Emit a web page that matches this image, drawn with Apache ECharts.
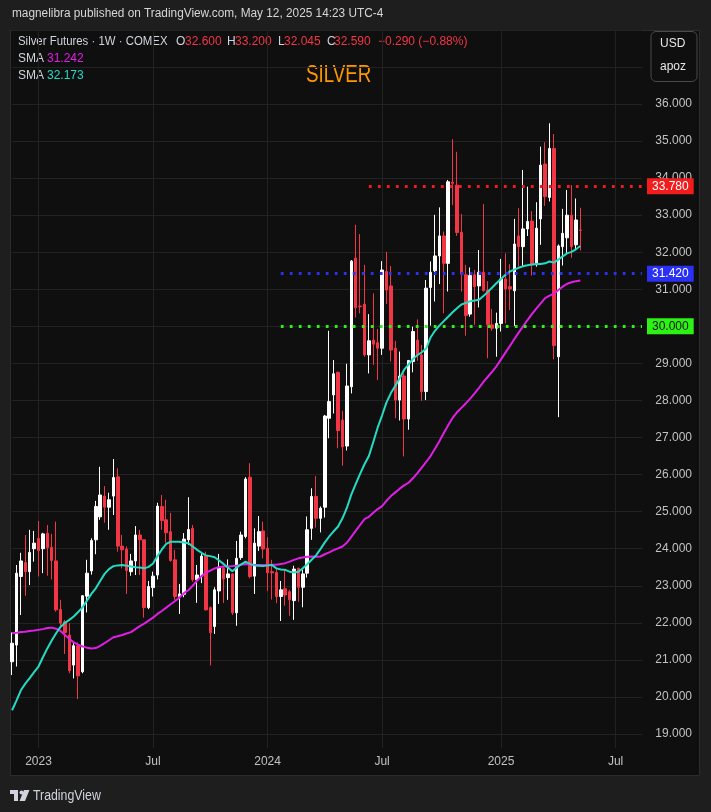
<!DOCTYPE html>
<html><head><meta charset="utf-8">
<script src="https://cdn.jsdelivr.net/npm/echarts@6/dist/echarts.min.js"></script>
<style>html,body{margin:0;padding:0;background:#1e1e1e;}#c{width:711px;height:812px;}</style>
</head><body><div id="c"></div>
<script>
// ---- data ----
const startWeek = '2022-11-21';
const weekCount = 144;
const opens = [
20.95,21.40,23.25,23.63,23.38,24.00,24.28,24.00,24.42,24.04,
23.67,22.36,22.03,21.67,20.86,21.38,20.68,22.72,23.40,24.24,
24.86,25.42,25.12,25.42,25.94,24.07,23.99,23.38,23.67,24.37,
24.24,22.41,22.95,23.29,25.14,24.78,24.46,23.70,22.71,22.77,
24.24,24.55,23.16,23.26,23.80,22.41,21.90,22.86,23.47,23.22,
23.32,22.27,23.76,24.33,25.93,23.26,24.07,24.48,24.01,23.38,
23.36,22.71,22.92,22.84,22.60,23.47,22.96,23.34,24.55,25.41,
24.82,25.12,27.52,28.15,28.76,27.47,26.77,28.37,31.84,30.55,
30.60,29.23,29.63,29.56,29.41,31.48,31.09,29.41,28.01,28.66,
27.50,29.05,29.63,29.23,28.24,31.05,31.50,31.90,32.44,31.70,
33.89,33.81,32.54,31.39,30.33,31.39,31.09,31.46,30.98,30.04,
29.95,30.08,31.28,31.07,30.96,32.44,32.15,32.63,32.84,31.66,
32.90,34.38,33.48,34.80,29.18,32.15,32.39,33.00,32.20,32.60];
const highs = [
21.74,23.56,23.89,24.37,24.51,24.48,24.75,24.43,24.64,24.40,
24.73,22.62,22.08,21.99,21.45,21.47,22.75,23.70,24.28,25.29,
26.21,25.69,25.51,26.42,26.17,24.37,24.06,23.86,24.61,24.51,
24.25,23.13,23.38,25.24,25.45,25.32,24.97,23.97,23.05,24.42,
25.39,24.64,23.56,23.86,23.92,22.44,22.96,23.86,23.50,23.71,
23.34,24.21,24.46,25.93,26.31,24.55,24.88,24.73,24.31,23.70,
23.47,23.13,23.43,22.89,23.54,23.49,23.43,24.87,25.63,25.96,
25.14,27.61,29.88,29.09,28.78,27.72,28.99,31.79,32.74,32.49,
31.66,30.33,30.89,29.93,31.76,32.01,31.63,29.61,29.32,28.73,
29.09,29.99,30.19,29.50,31.25,31.75,33.01,33.21,32.56,33.95,
35.05,34.71,33.03,31.66,31.59,31.52,32.06,33.30,31.22,30.47,
30.37,31.82,31.97,31.68,32.90,33.19,34.22,33.77,33.11,33.35,
34.85,34.97,35.48,35.19,32.21,33.17,33.68,33.81,33.45,33.20];
const lows = [
20.59,20.82,22.21,22.73,23.02,23.65,23.25,23.34,23.27,23.17,
22.30,21.90,21.16,20.64,20.50,19.94,20.64,22.28,23.30,23.85,
24.78,24.70,24.51,24.91,23.92,23.47,22.78,23.27,23.29,23.29,
22.14,22.37,22.71,23.17,24.51,24.16,23.65,22.62,22.24,22.69,
24.10,23.11,22.54,23.07,22.33,20.85,21.70,22.51,22.54,22.62,
22.21,21.92,23.70,24.28,23.20,22.78,23.94,23.74,22.86,22.63,
22.53,22.05,22.46,22.19,22.08,22.57,22.42,23.22,24.24,24.57,
24.44,24.84,26.98,27.65,26.71,26.24,26.65,28.19,30.24,30.35,
29.18,28.73,28.96,28.55,29.23,30.60,29.05,27.52,27.46,26.49,
27.21,28.76,29.07,27.99,28.01,30.02,30.67,31.14,30.35,30.94,
33.27,32.44,30.94,29.75,30.26,30.04,30.51,30.94,29.14,29.88,
29.18,29.86,30.08,30.44,30.01,31.61,31.63,32.44,31.37,31.61,
32.20,33.25,33.37,29.11,27.55,31.64,31.97,31.85,32.06,32.045];
const closes = [
21.45,23.34,23.67,23.38,23.90,24.15,23.95,24.40,24.03,23.68,
22.35,21.99,21.74,20.71,21.38,20.57,22.73,23.34,24.22,25.14,
25.45,25.12,25.32,25.92,24.07,23.97,23.41,23.67,24.37,24.24,
22.41,22.98,23.26,25.15,24.76,24.43,23.68,22.71,22.78,24.26,
24.52,23.16,23.29,23.80,22.35,21.73,22.89,23.50,23.18,23.32,
22.27,23.74,24.37,25.88,23.25,24.15,24.46,23.99,23.35,23.35,
22.71,22.89,22.75,22.62,23.45,22.96,23.32,24.51,25.41,24.82,
25.09,27.58,27.97,28.72,27.19,26.75,28.39,31.76,30.50,30.53,
29.23,29.61,29.52,29.41,31.52,30.98,29.36,28.01,28.66,27.50,
29.08,29.86,29.23,28.24,31.03,31.46,31.90,32.44,31.70,33.90,
33.86,32.53,31.41,30.29,31.37,31.07,31.46,30.96,30.04,29.95,
30.08,31.28,31.01,31.01,32.22,32.15,32.63,32.83,31.66,32.65,
34.35,33.50,34.80,29.48,32.17,32.51,33.00,32.15,32.87,32.59];
const smaFast = [
19.64,19.90,20.18,20.36,20.51,20.67,20.82,21.07,21.31,21.52,
21.72,21.89,22.00,22.08,22.17,22.29,22.42,22.60,22.78,22.93,
23.13,23.32,23.45,23.53,23.55,23.56,23.54,23.52,23.50,23.49,
23.47,23.51,23.60,23.80,23.98,24.13,24.19,24.19,24.19,24.17,
24.15,24.06,23.97,23.89,23.82,23.80,23.77,23.68,23.59,23.49,
23.39,23.49,23.58,23.65,23.59,23.55,23.54,23.53,23.55,23.56,
23.47,23.44,23.43,23.38,23.36,23.38,23.47,23.58,23.70,23.82,
23.99,24.17,24.33,24.47,24.60,24.82,25.10,25.46,25.74,26.02,
26.28,26.50,26.88,27.27,27.60,27.95,28.20,28.40,28.60,28.83,
28.97,29.12,29.22,29.30,29.40,29.70,29.88,30.02,30.14,30.26,
30.38,30.49,30.59,30.63,30.68,30.70,30.72,30.82,30.93,31.05,
31.17,31.28,31.39,31.48,31.53,31.58,31.62,31.65,31.67,31.68,
31.68,31.70,31.75,31.72,31.80,31.89,31.97,32.01,32.08,32.17];
const smaSlow = [
21.72,21.73,21.75,21.76,21.78,21.79,21.81,21.83,21.86,21.87,
21.84,21.78,21.67,21.57,21.47,21.41,21.36,21.33,21.31,21.32,
21.38,21.45,21.53,21.61,21.64,21.67,21.71,21.75,21.83,21.91,
21.98,22.06,22.14,22.24,22.32,22.41,22.50,22.59,22.68,22.80,
22.88,23.00,23.14,23.26,23.35,23.41,23.47,23.50,23.52,23.52,
23.53,23.54,23.57,23.59,23.58,23.56,23.56,23.56,23.56,23.57,
23.57,23.59,23.61,23.65,23.70,23.74,23.76,23.78,23.79,23.78,
23.79,23.85,23.90,23.96,24.01,24.06,24.16,24.32,24.48,24.64,
24.80,24.86,24.97,25.07,25.15,25.29,25.42,25.52,25.62,25.71,
25.78,25.90,26.04,26.19,26.34,26.50,26.70,26.90,27.12,27.33,
27.53,27.68,27.80,27.92,28.05,28.19,28.34,28.50,28.64,28.78,
28.93,29.11,29.29,29.47,29.65,29.83,30.00,30.17,30.33,30.48,
30.62,30.76,30.83,30.88,30.98,31.07,31.15,31.19,31.22,31.24];
const xTickDates = ['2023-01-02','2023-07-03','2024-01-01','2024-07-01','2025-01-06','2025-07-07'];
const xTickLabels = ['2023','Jul','2024','Jul','2025','Jul'];
const levelValues = [33.78, 31.42, 30.00];
const levelLabels = ['33.780','31.420','30.000'];
const levelStarts = ['2024-06-10','2024-01-22','2024-01-22'];
const levelColors = ['#f21c1c','#2b31f2','#2cf215'];
const levelTextColors = ['#ffffff','#ffffff','#111111'];

// ---- build ----
const weeks = [];
{ const t0 = Date.parse(startWeek + 'T00:00:00Z');
  for (let i = 0; i < weekCount; i++) weeks.push(new Date(t0 + i * 7 * 86400000).toISOString().slice(0, 10)); }
const tickMap = {};
xTickDates.forEach((d, k) => { tickMap[weeks.indexOf(d)] = xTickLabels[k]; });
const isTick = (i) => tickMap[i] !== undefined;
const candles = opens.map((o, i) => [o, closes[i], lows[i], highs[i]]);

const FONT = "'Liberation Sans', Arial, sans-serif";
const GRID = '#222222';
const UP = '#ffffff', DOWN = '#f23645';

const markData = levelValues.map((v, k) => [
  { coord: [levelStarts[k], v], lineStyle: { color: levelColors[k], type: [2.8, 6.2], width: 2.8 },
    label: { show: true, position: 'end', distance: 5, formatter: levelLabels[k], color: levelTextColors[k],
      backgroundColor: levelColors[k], padding: [2, 5, 2, 5], fontSize: 12, fontFamily: FONT } },
  { coord: [weeks[weekCount - 1], v] }
]);

const t = (x, y, text, fill, size, extra) => Object.assign({ type: 'text', x: x, y: y,
  style: { text: text, fill: fill, font: size + 'px ' + FONT, verticalAlign: 'middle' } }, extra || {});

const chart = echarts.init(document.getElementById('c'), null, { renderer: 'canvas' });
chart.setOption({
  backgroundColor: 'transparent',
  animation: false,
  grid: { left: 12.07, right: 69, top: 29.88, bottom: 78 },
  xAxis: {
    type: 'category', data: weeks, boundaryGap: false,
    axisLine: { show: false },
    axisTick: { show: true, interval: (i) => isTick(i), length: 14, lineStyle: { color: GRID } },
    axisLabel: { interval: (i) => isTick(i), formatter: (v, i) => tickMap[i] || '', color: '#c2c2c2',
      fontSize: 12, fontFamily: FONT, margin: 22 },
    splitLine: { show: true, interval: (i) => isTick(i), lineStyle: { color: GRID } }
  },
  yAxis: {
    type: 'value', position: 'right', min: 19, max: 38, interval: 1, scale: true,
    axisLine: { show: false }, axisTick: { show: false },
    axisLabel: { formatter: (v) => (v <= 36 ? v.toFixed(3) : ''), color: '#c2c2c2', fontSize: 12,
      fontFamily: FONT, align: 'right', margin: 50 },
    splitLine: { show: true, lineStyle: { color: GRID } }
  },
  series: [
    { type: 'candlestick', data: candles, barWidth: 3, clip: false, z: 3,
      itemStyle: { color: UP, color0: DOWN, borderColor: UP, borderColor0: DOWN, borderWidth: 1 },
      markLine: { symbol: 'none', silent: true, animation: false, data: markData, z: 6 } },
    { type: 'line', data: smaSlow, symbol: 'none', z: 4, lineStyle: { color: '#e01ee6', width: 2 } },
    { type: 'line', data: smaFast, symbol: 'none', z: 4, lineStyle: { color: '#22dcc3', width: 2 } }
  ],
  graphic: [
    { type: 'rect', z: -100, shape: { x: 10.5, y: 30.5, width: 689, height: 745 },
      style: { fill: '#0f0f0f', stroke: '#2c2c2c', lineWidth: 1 } },
    t(12, 14, 'magnelibra published on TradingView.com, May 12, 2025 14:23 UTC-4', '#d6d6d6', 12, { scaleX: 0.985 }),
    t(18, 42, 'Silver Futures · 1W · COMEX', '#d1d4dc', 12, { scaleX: 0.95 }),
    t(176, 42, 'O', '#d1d4dc', 12), t(185, 42, '32.600', DOWN, 12),
    t(227, 42, 'H', '#d1d4dc', 12), t(235, 42, '33.200', DOWN, 12),
    t(278, 42, 'L', '#d1d4dc', 12), t(284, 42, '32.045', DOWN, 12),
    t(327, 42, 'C', '#d1d4dc', 12), t(334, 42, '32.590', DOWN, 12),
    t(378, 42, '−0.290 (−0.88%)', DOWN, 12),
    t(18, 59, 'SMA', '#d1d4dc', 12), t(47, 59, '31.242', '#e01ee6', 12),
    t(18, 76, 'SMA', '#d1d4dc', 12), t(47, 76, '32.173', '#22dcc3', 12),
    t(306, 75, 'SILVER', '#ff9800', 24, { scaleX: 0.78 }),
    { type: 'rect', shape: { x: 651, y: 31.5, width: 46, height: 50, r: 5 }, style: { fill: '#0f0f0f', stroke: '#4a4a4a', lineWidth: 1 } },
    t(660, 44, 'USD', '#e6e6e6', 12), t(660, 67, 'apoz', '#e6e6e6', 12),
    { type: 'rect', shape: { x: 10, y: 790, width: 8, height: 4 }, style: { fill: '#d1d4dc' } },
    { type: 'rect', shape: { x: 14, y: 790, width: 4, height: 11 }, style: { fill: '#d1d4dc' } },
    { type: 'circle', shape: { cx: 21.5, cy: 792.5, r: 2 }, style: { fill: '#d1d4dc' } },
    { type: 'polygon', shape: { points: [[24, 790], [29.5, 790], [25, 801], [19.5, 801]] }, style: { fill: '#d1d4dc' } },
    t(33, 796, 'TradingView', '#d1d4dc', 14, { scaleX: 0.88 })
  ]
});
</script></body></html>
